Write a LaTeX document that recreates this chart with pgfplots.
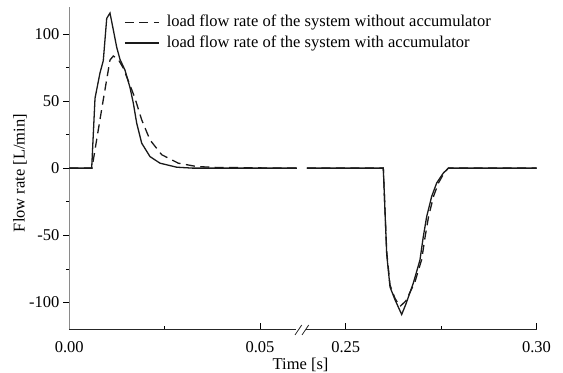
\documentclass[border=0pt]{standalone}
\usepackage{pgfplots}
\pgfplotsset{compat=1.18}
\usepackage{fontspec}
\setmainfont{Liberation Serif}
\definecolor{curve}{HTML}{1A1A1A}
\definecolor{yaxis}{HTML}{8A8A8A}
\begin{document}
\fontsize{16.5bp}{19.8bp}\selectfont
\begin{tikzpicture}
\begin{axis}[
  at={(69.3bp,43.7bp)}, anchor=south west,
  scale only axis, width=467.2bp, height=322.3bp,
  xmin=0, xmax=0.1225, ymin=-120, ymax=120,
  axis x line*=bottom, axis y line*=left,
  x axis line style={draw=none},
  y axis line style={draw=yaxis, line width=1.2bp},
  tick align=inside,
  major tick length=6bp, minor tick length=3.5bp,
  every tick/.style={black, line width=0.7bp},
  every major y tick/.append style={xshift=-6bp},
  every minor y tick/.append style={xshift=-3.5bp},
  xtick={0,0.05,0.0725,0.1225},
  xticklabels={0.00,0.05,0.25,0.30},
  minor xtick={0.025,0.0975},
  ytick={-100,-50,0,50,100},
  minor ytick={-75,-25,25,75},
  /pgf/number format/assume math mode=true,
  xticklabel style={yshift=-6.5bp},
  yticklabel style={xshift=-4.3bp},
  x filter/.expression={x>0.1 ? x-0.1775 : x},
  xlabel={Time [s]},
  xlabel style={at={(axis description cs:0.495,-0.1090)}, anchor=center},
  ylabel={Flow rate [L/min]},
  ylabel style={at={(axis description cs:-0.1055,0.485)}, anchor=center},
  legend image code/.code={\draw[#1, line width=1.6bp] (0bp,0bp) -- (34bp,0bp);},
  legend style={draw=none, fill=none, inner sep=0pt,
    at={(axis description cs:0.117,0.981)}, anchor=north west,
    row sep=2.5bp,
    /tikz/every odd column/.append style={column sep=5bp}},
  legend cell align=left,
]
% load flow rate without accumulator (dashed)
\addplot[curve, line width=1.3bp, dash pattern=on 9bp off 5.5bp] coordinates {
(0,0) (0.00595,0) (0.0076,28.5) (0.00891,51) (0.00981,66) (0.01067,80.5)
(0.01154,83.5) (0.01285,81) (0.01416,74.5) (0.01636,58.5) (0.01723,52)
(0.01898,36) (0.02116,21) (0.02423,10) (0.02858,3.7) (0.0334,1.2)
(0.03865,0.5) (0.045,0.4) (0.05,0.2) (0.055,0) (0.0597,0)
};
\addlegendentry{load flow rate of the system without accumulator}
\addplot[curve, line width=1.3bp] coordinates {
(0,0) (0.00587,0) (0.00674,52) (0.00805,71) (0.00891,80) (0.00981,111.5)
(0.01067,115.5) (0.01154,103) (0.01243,90) (0.01329,81) (0.0146,73)
(0.01592,60) (0.01678,48.5) (0.01767,33.5) (0.01898,18.6) (0.02116,8.6)
(0.02378,3.7) (0.02816,0.7) (0.03243,0) (0.0597,0)
};
\addlegendentry{load flow rate of the system with accumulator}
\addplot[curve, line width=1.3bp, dash pattern=on 9bp off 5.5bp, forget plot] coordinates {
(0.2398,0) (0.25983,0) (0.26072,-62) (0.26159,-87) (0.2629,-97) (0.26421,-103)
(0.2657,-99) (0.2681,-85) (0.2699,-68) (0.2708,-51) (0.2717,-36) (0.2730,-21)
(0.2743,-11) (0.2758,-3.5) (0.27687,0) (0.30,0)
};
\addplot[curve, line width=1.3bp, forget plot] coordinates {
(0.2398,0) (0.25983,0) (0.26072,-64) (0.26159,-88.5) (0.2629,-98) (0.26465,-109)
(0.26578,-101) (0.2677,-85.6) (0.26945,-68.3) (0.27032,-51) (0.27121,-36)
(0.27252,-21) (0.27383,-11) (0.27556,-3.7) (0.27687,0) (0.30,0)
};
\end{axis}
% broken x axis line and break marks
\draw[black!85, line width=0.9bp] (69.3bp,43.7bp) -- (295.5bp,43.7bp);
\draw[black!85, line width=0.9bp] (305.5bp,43.7bp) -- (536.5bp,43.7bp);
\draw[black!85, line width=0.8bp] (295bp,38bp) -- (301.7bp,48bp);
\draw[black!85, line width=0.8bp] (302bp,38bp) -- (308.7bp,48bp);
\pgfresetboundingbox
\path[use as bounding box] (0,0) rectangle (563bp,373bp);
\end{tikzpicture}
\end{document}
